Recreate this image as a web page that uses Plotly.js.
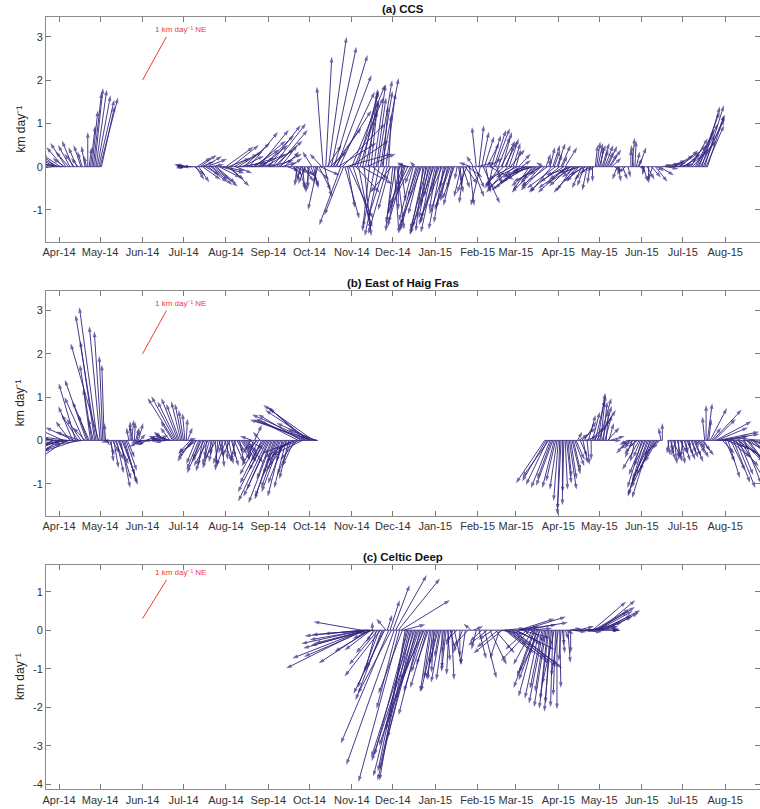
<!DOCTYPE html>
<html>
<head>
<meta charset="utf-8">
<script src="https://cdn.plot.ly/plotly-3.0.1.min.js"></script>
<style>
  html, body { margin: 0; padding: 0; background: #fff; }
  #chart { width: 760px; height: 809px; }
</style>
</head>
<body>
<div id="chart"></div>
<script>
// ---------------------------------------------------------------
// Daily drift vectors (east / north components, km per day)
// ---------------------------------------------------------------

// (a) CCS
const ccsDate = [
  '2014-03-22','2014-03-23','2014-03-24','2014-03-25','2014-03-26','2014-03-27','2014-03-28','2014-03-29',
  '2014-03-30','2014-03-31','2014-04-02','2014-04-03','2014-04-04','2014-04-05','2014-04-06','2014-04-08',
  '2014-04-09','2014-04-11','2014-04-12','2014-04-14','2014-04-15','2014-04-17','2014-04-18','2014-04-20',
  '2014-04-21','2014-04-22','2014-04-23','2014-04-24','2014-04-25','2014-04-26','2014-04-27','2014-04-28',
  '2014-04-29','2014-04-30','2014-05-01','2014-05-02',
  '2014-06-28','2014-06-30','2014-07-02','2014-07-04','2014-07-06','2014-07-08','2014-07-09','2014-07-10',
  '2014-07-11','2014-07-12','2014-07-13','2014-07-14','2014-07-15','2014-07-16','2014-07-17','2014-07-18',
  '2014-07-19','2014-07-20','2014-07-21','2014-07-22','2014-07-24','2014-07-25','2014-07-27','2014-07-28',
  '2014-07-30',
  '2014-08-01','2014-08-02','2014-08-03','2014-08-04','2014-08-05','2014-08-07','2014-08-08','2014-08-10',
  '2014-08-11','2014-08-13','2014-08-14','2014-08-16','2014-08-18','2014-08-19','2014-08-21','2014-08-22',
  '2014-08-24','2014-08-25','2014-08-27','2014-08-28','2014-08-30','2014-09-01','2014-09-02','2014-09-04',
  '2014-09-05','2014-09-07','2014-09-08','2014-09-10','2014-09-11','2014-09-13','2014-09-15','2014-09-17',
  '2014-09-19',
  '2014-09-20','2014-09-21','2014-09-22','2014-09-23','2014-09-24','2014-09-25','2014-09-26','2014-09-27','2014-09-28','2014-09-29','2014-09-30',
  '2014-10-01','2014-10-02','2014-10-03','2014-10-04','2014-10-05','2014-10-06','2014-10-07','2014-10-08','2014-10-09','2014-10-10',
  '2014-10-11','2014-10-12','2014-10-13','2014-10-14','2014-10-15','2014-10-16','2014-10-17','2014-10-18','2014-10-19','2014-10-20',
  '2014-10-21','2014-10-22','2014-10-23','2014-10-24','2014-10-25','2014-10-26','2014-10-27','2014-10-28','2014-10-29','2014-10-30','2014-10-31',
  '2014-11-01','2014-11-02','2014-11-03','2014-11-04','2014-11-05','2014-11-06','2014-11-07','2014-11-08','2014-11-09','2014-11-10',
  '2014-11-11','2014-11-12','2014-11-13','2014-11-14','2014-11-15','2014-11-16','2014-11-17','2014-11-18','2014-11-19','2014-11-20',
  '2014-11-21','2014-11-22','2014-11-23','2014-11-24','2014-11-25','2014-11-26','2014-11-27','2014-11-28','2014-11-29','2014-11-30',
  '2014-12-01','2014-12-02','2014-12-03','2014-12-04','2014-12-05','2014-12-06','2014-12-07','2014-12-08','2014-12-09','2014-12-10',
  '2014-12-11','2014-12-12','2014-12-13','2014-12-14','2014-12-15','2014-12-16','2014-12-17','2014-12-18','2014-12-19','2014-12-20',
  '2014-12-21','2014-12-22','2014-12-23','2014-12-24','2014-12-25','2014-12-26','2014-12-27','2014-12-28','2014-12-29','2014-12-30','2014-12-31',
  '2015-01-01','2015-01-02','2015-01-03','2015-01-04','2015-01-05','2015-01-06','2015-01-07','2015-01-08','2015-01-09','2015-01-10',
  '2015-01-11','2015-01-12','2015-01-13','2015-01-14','2015-01-15','2015-01-17','2015-01-18','2015-01-19',
  '2015-01-20','2015-01-21','2015-01-22','2015-01-23','2015-01-24','2015-01-25','2015-01-26','2015-01-27','2015-01-28','2015-01-29','2015-01-30','2015-01-31',
  '2015-02-01','2015-02-02','2015-02-03','2015-02-04','2015-02-05','2015-02-06','2015-02-07','2015-02-08','2015-02-09','2015-02-10',
  '2015-02-11','2015-02-12','2015-02-13','2015-02-14','2015-02-15','2015-02-16','2015-02-17','2015-02-18','2015-02-19','2015-02-20',
  '2015-02-21','2015-02-22','2015-02-23','2015-02-24','2015-02-25','2015-02-26','2015-02-27','2015-02-28',
  '2015-03-01','2015-03-02','2015-03-03','2015-03-04','2015-03-05','2015-03-06','2015-03-07','2015-03-08','2015-03-09','2015-03-10',
  '2015-03-11','2015-03-12','2015-03-13','2015-03-14','2015-03-15','2015-03-16','2015-03-17','2015-03-18','2015-03-19','2015-03-20',
  '2015-03-21','2015-03-22','2015-03-23','2015-03-24','2015-03-25',
  '2015-03-26','2015-03-27','2015-03-28','2015-03-29','2015-03-30','2015-03-31',
  '2015-04-01','2015-04-02','2015-04-03','2015-04-04','2015-04-05','2015-04-06','2015-04-07','2015-04-08','2015-04-09','2015-04-10',
  '2015-04-11','2015-04-12','2015-04-13','2015-04-14','2015-04-15','2015-04-16','2015-04-17','2015-04-18','2015-04-19','2015-04-20',
  '2015-04-21','2015-04-22','2015-04-23','2015-04-24','2015-04-25','2015-04-26','2015-04-27','2015-04-28',
  '2015-04-29','2015-04-30','2015-05-01','2015-05-02','2015-05-03','2015-05-04','2015-05-05','2015-05-06','2015-05-07','2015-05-08','2015-05-09','2015-05-10',
  '2015-05-12','2015-05-14','2015-05-15','2015-05-16','2015-05-18','2015-05-20','2015-05-22',
  '2015-05-24','2015-05-25','2015-05-26','2015-05-27','2015-05-28','2015-05-29','2015-05-30',
  '2015-06-01','2015-06-02','2015-06-03','2015-06-05','2015-06-06','2015-06-08','2015-06-09','2015-06-11','2015-06-12','2015-06-14',
  '2015-06-16','2015-06-18','2015-06-19','2015-06-21','2015-06-23','2015-06-25','2015-06-26','2015-06-28','2015-06-29',
  '2015-07-01','2015-07-02','2015-07-04','2015-07-05','2015-07-07','2015-07-08','2015-07-10','2015-07-11','2015-07-12','2015-07-13',
  '2015-07-14','2015-07-15','2015-07-16','2015-07-17','2015-07-18','2015-07-19'
];
const ccsEast = [
  -1.0,-0.9,-0.8,-0.9,-0.7,-1.0,-0.8,-0.6,
  -0.9,-0.7,-0.8,-0.6,-0.7,-0.5,-0.65,-0.55,
  -0.5,-0.45,-0.4,-0.35,-0.3,-0.3,-0.2,-0.15,
  -0.1,0.0,0.1,0.2,0.25,0.35,0.35,0.45,
  0.55,0.65,0.75,0.55,
  -0.1,-0.2,-0.45,-0.5,-0.6,-0.45,0.45,0.35,
  0.6,0.45,0.7,0.55,0.75,0.75,0.6,0.85,
  0.8,0.6,0.9,0.7,0.95,0.8,0.9,1.0,
  0.9,
  1.15,0.7,0.9,0.8,1.15,1.0,0.7,1.0,
  1.2,0.9,1.1,1.2,1.2,1.0,1.1,1.3,
  1.2,1.25,1.1,1.3,1.2,1.35,1.0,1.4,
  1.2,1.3,1.0,0.7,0.6,0.6,0.5,0.5,
  0.4,
  0.2,0.5,-0.1,0.3,0.6,-0.2,0.1,0.4,-0.3,0.4,0.0,
  -0.15,0.35,-0.4,0.2,0.6,-0.1,-0.4,0.5,0.8,-0.5,
  -0.26,0.3,0.25,0.6,0.75,0.7,1.05,1.2,1.4,1.5,
  1.45,1.6,1.47,-0.9,1.8,-0.8,0.6,1.9,0.3,1.0,1.6,
  1.4,0.8,1.2,1.0,0.9,0.5,0.8,1.3,0.6,0.3,
  0.5,1.2,0.4,-0.3,0.3,0.7,0.5,-0.5,0.4,0.6,
  -0.6,0.5,0.7,0.2,-0.7,0.4,-0.8,0.1,-0.5,-0.9,
  -0.3,0.2,-0.4,0.3,0.0,-0.5,0.2,-0.6,-0.3,-0.7,
  -0.4,-0.8,-0.5,-0.9,-0.3,-0.6,-0.2,-0.7,-0.4,-0.8,
  -0.5,-0.9,-0.3,-0.6,-0.2,-0.7,-0.4,-0.8,-0.3,-0.5,-0.9,
  -0.6,-0.3,-0.8,-0.4,-0.5,-0.9,-0.4,-0.2,-0.7,-0.3,
  -0.6,-0.6,-0.2,-0.4,-0.5,-0.1,0.2,0.1,
  -0.3,0.3,-0.2,0.5,-0.4,0.6,0.2,-0.5,0.5,-0.3,0.4,-0.18,
  0.7,0.2,-0.4,0.3,0.7,0.4,0.2,0.5,0.6,1.0,
  0.4,-0.2,0.5,0.6,0.2,0.5,-0.6,0.6,0.4,-0.8,
  0.5,0.3,-0.9,0.4,0.6,-1.0,0.3,-1.1,
  0.2,-0.9,0.5,-1.2,0.4,-1.0,-0.8,-1.3,-0.6,-1.1,
  -0.7,-1.2,-0.5,-0.9,-1.0,-0.6,-1.1,-0.4,-0.8,-1.2,
  -0.3,-1.0,0.2,-1.1,0.1,
  0.2,-0.9,0.3,0.25,-1.2,0.35,
  0.15,-1.3,0.4,0.2,-1.0,0.5,-1.2,-0.8,-1.3,-0.9,
  -1.1,-0.7,-1.2,-0.6,-1.0,-0.5,-0.9,-0.4,-0.8,-0.3,
  -0.7,-0.2,-0.6,-0.1,-0.5,0.0,-0.3,0.1,
  0.15,0.2,0.25,0.1,0.3,0.2,0.35,0.3,0.4,0.35,0.45,0.4,
  0.3,-0.2,0.1,-0.1,0.2,-0.3,0.1,
  0.0,0.1,-0.1,0.05,0.15,0.2,0.3,
  0.1,0.2,-0.1,0.3,0.0,0.4,-0.2,0.5,0.3,0.6,
  0.4,0.6,0.5,0.7,0.6,0.8,0.7,0.9,0.75,
  0.6,0.7,0.8,0.9,0.7,1.0,0.8,0.9,0.7,0.85,
  1.0,0.75,0.9,0.8,0.75,0.7
];
const ccsNorth = [
  0.05,0.22,-0.1,0.35,0.15,-0.05,0.28,0.1,
  0.4,0.2,0.3,0.05,0.45,0.2,0.55,0.35,
  0.5,0.6,0.3,0.45,0.2,0.5,0.35,0.48,
  0.25,0.8,0.45,0.95,1.3,1.72,1.82,1.78,
  1.65,1.55,1.6,1.4,
  0.0,0.03,0.05,-0.03,0.04,0.0,-0.2,-0.3,
  0.22,-0.36,0.27,0.12,-0.3,0.24,-0.2,0.18,
  -0.36,0.05,-0.42,-0.3,-0.46,-0.38,-0.25,-0.15,
  -0.1,
  0.46,-0.3,0.2,-0.45,0.5,0.3,-0.15,0.35,
  0.1,0.25,0.55,0.2,0.8,0.05,0.4,0.6,
  0.3,0.85,0.5,0.73,0.4,0.96,0.15,1.0,
  0.6,0.85,0.3,0.5,0.1,0.35,-0.1,0.2,
  -0.2,
  -0.3,-0.15,-0.45,-0.5,-0.2,-0.35,-0.55,-0.35,-0.4,-0.25,-0.5,
  -0.6,-0.45,0.35,-0.5,-0.3,-0.4,-1.0,-0.55,-0.2,0.3,
  1.85,-0.7,2.54,0.5,3.0,0.35,2.77,0.9,2.58,1.3,
  2.12,0.55,1.73,-1.35,1.0,-1.12,-1.2,0.3,-0.95,-1.2,0.6,
  1.9,-1.4,1.6,-0.6,1.75,-1.45,1.5,-0.4,1.7,-1.6,
  1.3,0.3,1.8,-1.5,1.55,-0.3,1.9,-1.4,1.6,2.0,
  -1.6,1.75,2.05,1.4,-1.2,1.7,-1.55,1.2,-1.0,-0.6,
  -1.5,-1.55,-1.3,-1.45,-1.0,-1.4,-0.8,-1.1,-0.6,-1.3,
  0.1,-0.9,0.05,-1.0,-0.4,-1.25,0.12,-1.45,-0.7,-1.5,
  -1.1,-1.35,-1.5,-1.58,-0.9,-1.45,-1.2,-1.55,-0.7,-1.3,-1.4,
  -1.52,-1.0,-1.35,-0.6,-1.45,-1.2,-1.3,-0.5,-1.1,-0.8,
  -1.0,-0.95,-0.5,-0.9,-0.75,-0.3,-0.6,-0.4,
  -0.7,-0.5,-0.85,-0.4,-0.6,-0.25,-0.9,0.1,-0.7,0.25,-0.5,0.92,
  0.1,0.96,-0.9,0.81,-0.85,0.7,-0.6,0.55,0.2,-0.3,
  0.73,-0.5,0.85,0.89,-0.4,0.7,-0.5,0.6,0.8,-0.45,
  0.58,0.5,-0.6,0.65,0.4,-0.3,0.55,-0.5,
  0.4,-0.25,0.3,-0.55,0.15,-0.4,-0.2,-0.5,-0.1,-0.35,
  -0.55,-0.25,-0.4,-0.15,-0.45,-0.3,-0.6,-0.2,-0.5,-0.35,
  0.1,-0.55,0.3,-0.45,0.2,
  0.45,-0.6,0.5,0.38,-0.5,0.54,
  0.3,-0.58,0.5,0.25,-0.35,0.45,-0.6,-0.3,-0.5,-0.45,
  -0.2,-0.55,-0.4,-0.25,-0.6,-0.35,-0.15,-0.5,-0.35,-0.45,
  -0.2,-0.55,-0.3,-0.4,-0.15,-0.35,-0.1,0.5,
  0.58,0.55,0.5,0.45,0.55,0.4,0.5,0.35,0.48,0.3,0.4,0.2,
  -0.1,-0.3,-0.35,-0.2,-0.3,-0.15,-0.25,
  0.4,0.67,0.5,0.6,0.35,0.2,0.45,
  -0.1,-0.35,-0.2,-0.3,-0.38,-0.25,-0.3,-0.35,-0.1,-0.2,
  0.05,0.08,-0.05,0.15,0.1,0.27,0.05,0.35,0.38,
  0.2,0.3,0.5,0.4,0.66,0.6,0.85,1.0,0.75,1.27,
  1.1,1.39,1.2,1.42,0.96,1.19
];

// (b) East of Haig Fras
const haigDate = [
  '2014-03-22','2014-03-23','2014-03-24','2014-03-25','2014-03-26','2014-03-27','2014-03-28','2014-03-29','2014-03-30','2014-03-31',
  '2014-04-01','2014-04-02','2014-04-03','2014-04-04','2014-04-05','2014-04-06','2014-04-07','2014-04-08','2014-04-09','2014-04-10',
  '2014-04-11','2014-04-12','2014-04-13','2014-04-14','2014-04-15','2014-04-16','2014-04-17','2014-04-18','2014-04-19','2014-04-20',
  '2014-04-21','2014-04-22','2014-04-23','2014-04-24','2014-04-25','2014-04-26','2014-04-27','2014-04-28','2014-04-29','2014-04-30',
  '2014-05-01','2014-05-02','2014-05-03','2014-05-04','2014-05-05',
  '2014-05-06','2014-05-07','2014-05-08','2014-05-09','2014-05-10','2014-05-11','2014-05-12','2014-05-13','2014-05-14','2014-05-15',
  '2014-05-16','2014-05-17','2014-05-18','2014-05-19','2014-05-20','2014-05-21','2014-05-22','2014-05-23','2014-05-24','2014-05-25',
  '2014-05-26','2014-05-27','2014-05-28','2014-05-29','2014-05-30','2014-05-31',
  '2014-06-01','2014-06-02','2014-06-03','2014-06-04','2014-06-05','2014-06-07','2014-06-09','2014-06-11','2014-06-13',
  '2014-06-15','2014-06-16','2014-06-17','2014-06-18','2014-06-19','2014-06-20','2014-06-21','2014-06-22','2014-06-23','2014-06-24',
  '2014-06-25','2014-06-26','2014-06-27','2014-06-28','2014-06-29','2014-06-30',
  '2014-07-01','2014-07-02','2014-07-03','2014-07-04','2014-07-05',
  '2014-07-06','2014-07-07','2014-07-08','2014-07-09','2014-07-10','2014-07-11','2014-07-12','2014-07-13','2014-07-14','2014-07-15',
  '2014-07-16','2014-07-17','2014-07-18','2014-07-19','2014-07-20','2014-07-21','2014-07-22','2014-07-23','2014-07-24','2014-07-25',
  '2014-07-26','2014-07-27','2014-07-28','2014-07-29','2014-07-30','2014-07-31',
  '2014-08-01','2014-08-02','2014-08-03','2014-08-04','2014-08-05','2014-08-06','2014-08-07','2014-08-08','2014-08-09','2014-08-10',
  '2014-08-11','2014-08-12','2014-08-13','2014-08-14','2014-08-15','2014-08-16','2014-08-17','2014-08-18',
  '2014-08-19','2014-08-20','2014-08-21','2014-08-22','2014-08-23','2014-08-24','2014-08-25','2014-08-26','2014-08-27','2014-08-28',
  '2014-08-29','2014-08-30','2014-08-31',
  '2014-09-01','2014-09-02','2014-09-03','2014-09-04','2014-09-05','2014-09-06','2014-09-07','2014-09-08','2014-09-09','2014-09-10',
  '2014-09-11','2014-09-12','2014-09-13','2014-09-14','2014-09-15','2014-09-16','2014-09-17','2014-09-18','2014-09-19','2014-09-20',
  '2014-09-21','2014-09-22','2014-09-23','2014-09-24','2014-09-25','2014-09-26','2014-09-27','2014-09-28','2014-09-29','2014-09-30',
  '2014-10-01','2014-10-02','2014-10-03','2014-10-04','2014-10-05','2014-10-06','2014-10-07',
  '2015-03-22','2015-03-23','2015-03-24','2015-03-25','2015-03-26','2015-03-27','2015-03-28','2015-03-29','2015-03-30','2015-03-31',
  '2015-04-01','2015-04-02','2015-04-03','2015-04-04','2015-04-05','2015-04-06','2015-04-07','2015-04-08','2015-04-09','2015-04-10',
  '2015-04-11','2015-04-12','2015-04-13','2015-04-14','2015-04-15','2015-04-16','2015-04-17','2015-04-18','2015-04-19','2015-04-20',
  '2015-04-21','2015-04-22','2015-04-23','2015-04-24','2015-04-25','2015-04-26','2015-04-27','2015-04-28','2015-04-29','2015-04-30',
  '2015-05-01','2015-05-02','2015-05-03','2015-05-04','2015-05-05','2015-05-06','2015-05-07','2015-05-08','2015-05-09','2015-05-10',
  '2015-05-21','2015-05-22','2015-05-23','2015-05-24','2015-05-25','2015-05-26','2015-05-27','2015-05-28','2015-05-29','2015-05-30','2015-05-31',
  '2015-06-01','2015-06-02','2015-06-03','2015-06-04','2015-06-05','2015-06-06','2015-06-07','2015-06-08','2015-06-09','2015-06-10',
  '2015-06-11','2015-06-12','2015-06-13','2015-06-14','2015-06-15','2015-06-16',
  '2015-06-20','2015-06-21','2015-06-22','2015-06-23','2015-06-24','2015-06-25','2015-06-26','2015-06-27','2015-06-28','2015-06-29','2015-06-30',
  '2015-07-01','2015-07-02','2015-07-03','2015-07-04','2015-07-05','2015-07-06','2015-07-07','2015-07-08','2015-07-09','2015-07-10',
  '2015-07-11','2015-07-12','2015-07-13','2015-07-14','2015-07-15','2015-07-16',
  '2015-07-17','2015-07-18','2015-07-19','2015-07-20','2015-07-21','2015-07-22','2015-07-23','2015-07-24','2015-07-25','2015-07-26',
  '2015-07-27','2015-07-28','2015-07-29','2015-07-30','2015-07-31',
  '2015-08-01','2015-08-02','2015-08-03','2015-08-04','2015-08-05','2015-08-06','2015-08-07','2015-08-08','2015-08-09','2015-08-10',
  '2015-08-11','2015-08-12','2015-08-13','2015-08-14','2015-08-15','2015-08-16','2015-08-17','2015-08-18','2015-08-19','2015-08-20',
  '2015-08-21','2015-08-22','2015-08-23','2015-08-24','2015-08-25','2015-08-26'
];
const haigEast = [
  -0.9,-1.0,-0.8,-1.1,-0.7,-1.0,-0.9,-1.2,-0.8,-1.1,
  -1.3,-0.9,-1.4,-1.0,-1.5,-1.2,-1.3,-1.6,-0.6,-1.5,
  -0.6,-1.2,-0.7,-1.4,-0.7,-1.0,-0.6,-1.2,-0.8,-0.5,
  -0.9,-0.4,-0.7,-0.3,-0.5,-0.2,-0.6,-0.85,-0.75,-1.17,
  -0.45,-0.3,-0.15,-0.1,-0.05,
  0.1,-0.3,0.2,0.1,0.3,0.2,0.35,0.3,0.45,0.5,
  0.4,0.55,0.6,0.5,0.45,0.3,-0.1,0.0,0.1,-0.15,
  0.05,0.15,0.1,0.2,0.25,-0.5,
  -0.4,-0.55,-0.3,0.4,-0.5,0.3,-0.4,0.5,-0.3,
  -0.5,-0.6,-0.4,-0.5,-0.3,-0.6,-0.4,-0.7,-0.5,-1.1,
  -1.0,-0.8,-0.7,-0.55,-0.4,-0.3,
  -0.2,-0.1,0.05,0.2,0.3,
  -0.5,-0.6,-0.3,-0.7,-0.4,-0.8,-0.5,-0.3,-0.6,-0.2,
  -0.5,-0.4,-0.1,-0.6,-0.3,0.0,-0.4,-0.2,0.1,-0.5,
  -0.1,0.2,-0.3,0.1,-0.2,0.3,
  -0.4,0.0,0.2,-0.3,0.3,0.1,0.4,-0.2,0.3,0.5,
  0.2,0.4,0.6,0.3,0.5,0.7,0.4,0.6,
  -0.3,-0.5,-0.2,0.3,-0.6,-0.4,-0.8,-0.3,-0.9,-0.5,
  -1.1,-0.7,-1.2,
  -0.9,-1.1,-0.6,-1.0,-0.8,-0.5,-0.9,-0.7,-0.4,-0.8,
  -0.6,-0.3,-0.7,-0.5,-0.9,-0.4,-1.0,-0.6,-1.2,-0.5,
  -1.4,-0.7,-1.6,-1.0,-1.8,-1.3,-2.0,-1.5,-2.2,-1.7,
  -2.4,-1.9,-2.6,-2.1,-1.6,-1.2,-0.8,
  -1.2,-1.0,-0.9,-1.1,-0.8,-0.6,-0.7,-0.5,-0.4,-0.3,
  -0.2,-0.1,-0.15,0.0,-0.05,0.1,0.2,0.15,0.3,0.25,
  0.35,0.3,0.4,0.35,0.2,0.4,0.3,0.6,0.2,0.5,
  0.5,0.1,0.3,0.6,0.0,0.3,0.7,0.4,0.8,0.3,
  0.5,0.2,0.4,0.15,0.3,0.1,0.5,0.2,0.6,0.4,
  -0.3,-0.5,-0.2,-0.4,-0.3,-0.6,-0.2,-0.5,-0.4,-0.7,-0.3,
  -0.6,-0.6,-0.7,-0.5,-0.8,-0.7,-0.75,-0.8,-0.9,-0.6,
  -0.8,-0.5,-0.6,-0.3,-0.1,0.0,
  0.1,-0.1,0.2,0.0,0.3,0.1,-0.2,0.2,0.0,0.3,0.15,
  -0.1,0.25,0.1,0.35,0.2,0.0,0.3,0.15,0.4,0.25,
  0.1,0.3,0.4,0.2,0.5,0.3,
  -0.1,0.0,0.2,0.1,0.7,0.4,1.2,0.9,1.5,1.3,
  1.7,1.2,1.6,0.5,0.8,
  0.4,1.0,0.5,0.9,0.6,1.1,0.7,1.0,0.8,1.2,
  0.6,1.0,0.9,1.3,0.7,1.1,0.8,1.2,0.9,1.4,
  1.0,1.3,0.8,1.5,1.1,-0.8
];
const haigNorth = [
  0.5,-0.3,0.35,-0.1,0.2,-0.4,0.1,-0.2,-0.45,0.05,
  -0.3,-0.15,-0.4,0.25,-0.2,-0.45,0.1,-0.35,0.44,-0.1,
  0.79,0.3,1.32,-0.25,0.6,0.2,0.5,-0.1,1.0,0.3,
  1.4,0.6,0.9,1.2,1.75,0.5,2.3,2.9,3.08,2.24,
  2.64,2.52,1.95,1.75,0.4,
  -0.1,-0.05,-0.35,-0.5,-0.3,-0.64,-0.45,-0.76,-0.55,-0.9,
  -1.1,-0.8,-1.03,-0.98,-0.7,-0.4,0.3,0.44,0.48,0.35,
  0.42,0.3,0.25,0.4,0.15,-0.15,
  -0.1,-0.05,-0.12,0.1,-0.1,0.05,0.0,0.12,0.05,
  0.0,0.1,-0.05,0.2,0.05,0.15,0.3,0.1,0.45,0.98,
  1.02,0.9,0.98,0.85,0.9,0.85,
  0.7,0.63,0.5,0.3,0.05,
  -0.3,-0.49,-0.2,-0.4,-0.55,-0.3,-0.68,-0.45,-0.76,-0.6,
  -0.5,-0.72,-0.4,-0.6,-0.57,-0.35,-0.65,-0.5,-0.6,-0.45,
  -0.7,-0.4,-0.55,-0.62,-0.3,-0.5,
  -0.6,-0.45,-0.55,-0.35,-0.6,-0.4,-0.5,-0.48,-0.3,-0.45,
  -0.55,-0.35,-0.5,-0.25,-0.4,-0.52,-0.3,-0.2,
  -0.3,0.1,-0.45,0.36,-0.6,-0.2,-0.8,0.2,-1.0,-0.5,
  -1.2,-0.7,-1.41,
  -1.14,-1.3,-0.9,-1.45,-1.37,-0.8,-1.3,-1.1,-0.6,-1.2,
  -1.3,-0.5,-1.0,-1.1,-0.7,-0.9,-0.5,-0.8,-0.4,-0.6,
  -0.3,-0.45,0.45,-0.2,0.6,-0.35,0.5,0.75,0.48,0.78,
  0.6,0.7,0.48,0.82,0.4,0.25,0.1,
  -0.99,-0.95,-1.03,-0.85,-1.1,-0.9,-1.05,-1.1,-0.95,-1.14,
  -1.4,-1.72,-1.6,-1.5,-1.2,-1.14,-1.0,-0.85,-1.14,-0.9,
  -0.79,-0.7,-0.6,-0.45,0.2,0.15,-0.38,0.3,-0.53,0.44,
  0.1,-0.56,0.59,0.3,-0.45,0.66,0.5,0.94,0.7,1.1,
  0.98,1.05,0.8,0.9,0.6,0.7,0.3,0.4,0.1,0.0,
  -0.1,-0.3,-0.2,-0.1,-0.4,-0.2,-0.5,-0.3,-0.15,-0.68,-0.4,
  -1.1,-0.8,-1.3,-0.6,-1.26,-1.0,-1.33,-0.9,-1.1,-0.7,
  -0.8,-0.5,-0.35,-0.2,0.3,0.4,
  -0.35,-0.3,-0.45,-0.25,-0.4,-0.55,-0.35,-0.5,-0.45,-0.3,-0.55,
  -0.4,-0.48,-0.3,-0.45,-0.35,-0.2,-0.4,-0.3,-0.5,-0.38,
  -0.15,-0.3,-0.4,-0.2,-0.35,-0.25,
  0.55,0.82,0.86,0.5,0.75,0.3,0.71,0.5,0.44,0.3,
  0.2,0.1,0.15,-0.3,0.05,
  -0.5,-0.2,-0.87,-0.4,-0.7,-0.3,-0.98,-0.6,-1.1,-0.45,
  -0.8,-0.9,-0.5,-0.7,-1.0,-0.3,-0.6,-0.9,-0.4,-0.2,
  -0.5,-0.75,-0.35,0.1,-0.6,0.05
];

// (c) Celtic Deep
const celticDate = [
  '2014-11-08','2014-11-08 12:00','2014-11-09','2014-11-09 12:00','2014-11-10','2014-11-10 12:00',
  '2014-11-11','2014-11-11 12:00','2014-11-12','2014-11-12 12:00','2014-11-13','2014-11-13 12:00',
  '2014-11-14','2014-11-14 12:00','2014-11-15','2014-11-15 12:00','2014-11-16','2014-11-16 12:00',
  '2014-11-17','2014-11-18','2014-11-19','2014-11-20','2014-11-21','2014-11-22','2014-11-23','2014-11-24','2014-11-25','2014-11-26',
  '2014-11-27','2014-11-28','2014-11-29','2014-11-30',
  '2014-12-01','2014-12-02','2014-12-03','2014-12-04','2014-12-05','2014-12-06','2014-12-07','2014-12-08','2014-12-09','2014-12-10',
  '2014-12-11','2014-12-12','2014-12-13','2014-12-14','2014-12-15','2014-12-16','2014-12-17','2014-12-18','2014-12-19','2014-12-20',
  '2014-12-21','2014-12-22','2014-12-23','2014-12-24','2014-12-25','2014-12-26','2014-12-27','2014-12-28','2014-12-29','2014-12-30','2014-12-31',
  '2015-01-01','2015-01-02','2015-01-03','2015-01-04','2015-01-05','2015-01-06','2015-01-07','2015-01-08','2015-01-09','2015-01-10',
  '2015-01-11','2015-01-12','2015-01-13','2015-01-14','2015-01-15',
  '2015-01-17','2015-01-19','2015-01-21','2015-01-23','2015-01-25','2015-01-27','2015-01-29','2015-01-31',
  '2015-02-02','2015-02-04','2015-02-06','2015-02-08','2015-02-10','2015-02-12','2015-02-14','2015-02-16',
  '2015-02-17','2015-02-18','2015-02-19','2015-02-20',
  '2015-02-21','2015-02-22','2015-02-23','2015-02-24','2015-02-25','2015-02-26','2015-02-27','2015-02-28',
  '2015-03-01','2015-03-02','2015-03-03','2015-03-04','2015-03-05','2015-03-06','2015-03-07','2015-03-08','2015-03-09','2015-03-10',
  '2015-03-11','2015-03-12','2015-03-13','2015-03-14','2015-03-15','2015-03-16','2015-03-17','2015-03-18','2015-03-19','2015-03-20',
  '2015-03-21','2015-03-22','2015-03-23','2015-03-24','2015-03-25','2015-03-26','2015-03-27','2015-03-28','2015-03-29','2015-03-30','2015-03-31',
  '2015-04-01','2015-04-02','2015-04-03','2015-04-04','2015-04-05','2015-04-06',
  '2015-04-07','2015-04-08','2015-04-09','2015-04-10','2015-04-11','2015-04-13','2015-04-15','2015-04-17','2015-04-19','2015-04-21',
  '2015-04-23','2015-04-25','2015-04-26','2015-04-27','2015-04-28','2015-04-29','2015-04-30',
  '2015-05-01','2015-05-02','2015-05-03','2015-05-04','2015-05-05','2015-05-06','2015-05-08','2015-05-10','2015-05-12','2015-05-14'
];
const celticEast = [
  -2.0,-2.4,-3.2,-2.6,-3.0,-2.3,
  -2.6,-2.6,-2.3,-2.2,-2.4,-2.1,
  -1.9,-1.5,-1.1,-0.8,0.0,-0.6,
  -0.3,-0.8,-0.5,-1.2,-0.9,-1.5,-1.1,-0.7,-1.3,-0.4,
  0.2,-2.0,0.4,-1.4,
  0.7,-2.0,1.3,-0.85,1.74,-1.72,2.04,-1.0,0.9,-1.07,
  -1.2,-1.4,-1.5,-1.3,-1.7,-1.5,-1.8,-1.2,-1.6,-1.4,
  -0.9,-1.1,-0.8,-1.0,-0.6,-0.7,-0.5,-0.4,-0.3,-0.2,-0.1,
  -0.6,-0.3,-0.5,-0.2,-0.4,0.0,-0.3,-0.1,-0.2,0.1,
  -0.1,0.2,0.1,-0.3,0.3,
  -0.5,0.0,-0.4,-0.2,-0.6,-0.3,0.4,-0.2,
  0.3,-0.5,0.5,-0.8,0.7,-0.6,0.8,-0.9,
  -0.4,1.0,-1.2,0.9,
  1.2,1.8,0.8,2.0,1.5,2.1,1.9,1.0,
  1.6,0.9,1.5,2.0,1.2,1.8,0.7,1.3,-0.9,1.0,
  -1.2,0.6,-0.8,-0.7,-0.9,-0.75,-0.8,-0.6,-0.9,-0.5,
  -0.6,-0.4,-0.5,-0.3,-0.4,-0.2,-0.3,-0.1,-0.5,-0.1,0.0,
  -0.3,0.05,-0.1,0.1,0.0,0.15,
  0.3,0.1,0.5,0.0,0.6,0.8,0.7,0.9,1.0,0.8,
  1.2,1.3,1.4,1.5,1.35,1.6,1.45,
  1.5,1.3,1.6,1.2,1.4,0.5,0.4,0.3,0.2,0.1
];
const celticNorth = [
  0.22,-0.15,-0.99,-0.35,-0.73,-0.25,
  -0.47,-0.69,-0.12,-0.34,-0.4,-0.86,
  -0.09,-0.56,-0.52,-0.22,0.22,-0.1,
  -0.3,-0.6,-1.1,-0.9,-1.5,-1.2,-1.82,-1.0,-1.65,0.3,
  0.4,-2.94,0.78,-1.65,
  1.17,-3.5,1.43,-2.04,1.34,-3.94,0.78,-1.65,0.15,-3.9,
  -3.67,-3.25,-3.8,-3.6,-3.3,-3.9,-3.4,-2.8,-3.0,-2.6,
  -2.2,-1.8,-1.6,-1.3,-1.1,-1.5,-0.9,-1.6,-1.26,-1.3,-1.1,
  -1.6,-0.9,-1.26,-0.7,-1.36,-1.0,-1.3,-0.6,-1.08,-0.8,
  -1.16,-0.5,-1.29,-0.4,-0.9,
  -0.3,-0.7,-0.6,-0.9,-0.4,0.17,0.1,-0.5,
  -0.75,-0.3,-1.25,-0.4,-0.9,-0.25,-0.6,-0.45,
  -0.74,-0.1,-0.6,0.05,
  -0.6,-0.87,-0.4,-0.95,-0.74,-0.99,-0.91,-0.3,
  -0.5,0.1,0.3,0.2,-0.2,0.35,-0.4,0.15,-0.5,0.05,
  -0.8,-0.3,-0.9,-1.2,-1.5,-1.73,-1.3,-1.78,-1.1,-1.52,
  -1.9,-1.6,-2.0,-1.8,-2.04,-1.9,-2.12,-2.0,-1.4,-1.7,-2.05,
  -1.2,-1.5,-0.8,-0.6,-0.4,-0.25,
  -0.1,-0.85,0.05,-0.6,-0.05,0.0,0.1,-0.05,0.05,0.0,
  0.1,0.2,0.74,0.55,0.48,0.6,0.5,
  0.78,0.4,0.52,0.35,0.45,0.1,0.0,0.05,0.0,0.0
];

// Axis tick values and labels
const yTicksTop = [-1, 0, 1, 2, 3];
const yTickTextTop = ['-1', '0', '1', '2', '3'];
const yTicksDeep = [-4, -3, -2, -1, 0, 1];
const yTickTextDeep = ['-4', '-3', '-2', '-1', '0', '1'];
const panelTitles = ['(a) CCS', '(b) East of Haig Fras', '(c) Celtic Deep'];
const unitLabel = 'km day\u207B\u00B9';
const scaleLabel = '1 km day\u207B\u00B9 NE';

// ---------------------------------------------------------------
// Drawing
// ---------------------------------------------------------------
const DAY_MS = 86400000;
const DAYS_PER_UNIT = 17.5;       // horizontal extent (days) of 1 km/day eastward drift
const BASE_GAP_MS = 2.5 * DAY_MS; // larger gaps break the zero line
const ARROW = '#33247f';
const RED = '#ee3a36';
const FONT = 'Liberation Sans, Arial, Helvetica, sans-serif';
const HEAD = 6;

function parseDate(s) {
  const parts = s.split(' ');
  const d = parts[0].split('-').map(Number);
  let h = 0, m = 0;
  if (parts[1]) { const t = parts[1].split(':').map(Number); h = t[0]; m = t[1]; }
  return Date.UTC(d[0], d[1] - 1, d[2], h, m);
}
function fmt(ms) {
  return new Date(Math.round(ms / 60000) * 60000).toISOString().slice(0, 16).replace('T', ' ');
}

function featherTrace(dates, east, north, xa, ya) {
  if (dates.length !== east.length || dates.length !== north.length) {
    throw new Error('series length mismatch: ' + dates.length + ' / ' + east.length + ' / ' + north.length);
  }
  const x = [], y = [], size = [];
  dates.forEach((d, i) => {
    const t0 = parseDate(d);
    const t1 = t0 + east[i] * DAYS_PER_UNIT * DAY_MS;
    x.push(fmt(t0), fmt(t1), null);
    y.push(0, north[i], null);
    size.push(0, HEAD, 0);
  });
  return {
    type: 'scatter', mode: 'lines+markers', x, y, xaxis: xa, yaxis: ya,
    line: { color: ARROW, width: 0.9 },
    marker: { symbol: 'arrow', angleref: 'previous', size, color: ARROW, line: { width: 0 } },
    hoverinfo: 'skip', showlegend: false
  };
}

function baselineTrace(dates, xa, ya) {
  const t = dates.map(parseDate);
  const x = [], y = [];
  let start = t[0];
  for (let i = 1; i <= t.length; i++) {
    if (i === t.length || t[i] - t[i - 1] > BASE_GAP_MS) {
      x.push(fmt(start), fmt(t[i - 1]), null);
      y.push(0, 0, null);
      start = t[i];
    }
  }
  return {
    type: 'scatter', mode: 'lines', x, y, xaxis: xa, yaxis: ya,
    line: { color: ARROW, width: 0.8 }, hoverinfo: 'skip', showlegend: false
  };
}

const REF_START = parseDate('2014-06-01');
function refTrace(base, xa, ya) {
  return {
    type: 'scatter', mode: 'lines', xaxis: xa, yaxis: ya,
    x: [fmt(REF_START), fmt(REF_START + 1 * DAYS_PER_UNIT * DAY_MS)],
    y: [base, base + 1],
    line: { color: RED, width: 1 }, hoverinfo: 'skip', showlegend: false
  };
}

const W = 760, H = 809;
const xDomain = [46 / W, 1];
const domA = [1 - 242 / H, 1 - 17 / H];
const domB = [1 - 515.7 / H, 1 - 290.7 / H];
const domC = [1 - 789.3 / H, 1 - 564.7 / H];

const xAxisBase = {
  type: 'date',
  range: ['2014-03-22 11:00', '2015-08-26 10:00'],
  domain: xDomain,
  tickformat: '%b-%y', dtick: 'M1', tick0: '2014-04-01',
  ticks: 'inside', ticklen: 5, tickwidth: 1, tickcolor: '#7a7a7a',
  showline: true, linecolor: '#8c8c8c', linewidth: 1, mirror: 'ticks',
  showgrid: false, zeroline: false,
  tickfont: { family: FONT, size: 11, color: '#333' }
};
function yAxis(domain, range, vals, text, anchor) {
  return {
    domain, range, anchor,
    tickmode: 'array', tickvals: vals, ticktext: text,
    ticks: 'inside', ticklen: 5, tickwidth: 1, tickcolor: '#7a7a7a',
    showline: true, linecolor: '#8c8c8c', linewidth: 1, mirror: 'ticks',
    showgrid: false, zeroline: false,
    tickfont: { family: FONT, size: 11, color: '#333' }
  };
}

const traces = [
  baselineTrace(ccsDate, 'x', 'y'),
  featherTrace(ccsDate, ccsEast, ccsNorth, 'x', 'y'),
  refTrace(2, 'x', 'y'),
  baselineTrace(haigDate, 'x2', 'y2'),
  featherTrace(haigDate, haigEast, haigNorth, 'x2', 'y2'),
  refTrace(2, 'x2', 'y2'),
  baselineTrace(celticDate, 'x3', 'y3'),
  featherTrace(celticDate, celticEast, celticNorth, 'x3', 'y3'),
  refTrace(0.3, 'x3', 'y3')
];

const doms = [domA, domB, domC];
const annotations = [];
doms.forEach((dom, i) => {
  annotations.push({
    xref: 'paper', yref: 'paper', x: (46 + W) / 2 / W, y: dom[1],
    xanchor: 'center', yanchor: 'bottom', yshift: 0,
    text: panelTitles[i], showarrow: false,
    font: { family: FONT, size: 11.5, color: '#111', weight: 'bold' }
  });
  annotations.push({
    xref: 'paper', yref: 'paper', x: 20 / W, y: (dom[0] + dom[1]) / 2,
    xanchor: 'center', yanchor: 'middle', textangle: -90,
    text: unitLabel, showarrow: false,
    font: { family: FONT, size: 12, color: '#222' }
  });
});
[['x', 'y', 3], ['x2', 'y2', 3], ['x3', 'y3', 1.3]].forEach(([xa, ya, top]) => {
  annotations.push({
    xref: xa, yref: ya, x: '2014-06-29', y: top,
    xanchor: 'center', yanchor: 'bottom', yshift: 1,
    text: scaleLabel, showarrow: false,
    font: { family: FONT, size: 8, color: RED }
  });
});

const layout = {
  width: W, height: H,
  margin: { l: 0, r: 0, t: 0, b: 0 },
  paper_bgcolor: '#ffffff', plot_bgcolor: '#ffffff',
  font: { family: FONT, color: '#333' },
  showlegend: false,
  xaxis: Object.assign({}, xAxisBase, { anchor: 'y' }),
  xaxis2: Object.assign({}, xAxisBase, { anchor: 'y2' }),
  xaxis3: Object.assign({}, xAxisBase, { anchor: 'y3' }),
  yaxis: yAxis(domA, [-1.74, 3.46], yTicksTop, yTickTextTop, 'x'),
  yaxis2: yAxis(domB, [-1.74, 3.46], yTicksTop, yTickTextTop, 'x2'),
  yaxis3: yAxis(domC, [-4.13, 1.70], yTicksDeep, yTickTextDeep, 'x3'),
  annotations
};

Plotly.newPlot('chart', traces, layout, { displayModeBar: false, staticPlot: true });
</script>
</body>
</html>
